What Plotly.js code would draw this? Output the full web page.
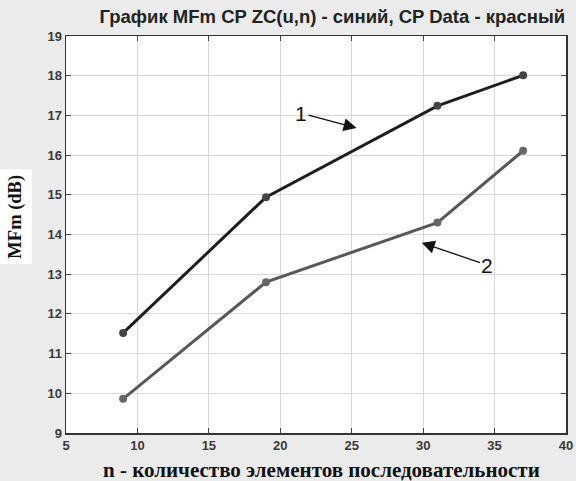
<!DOCTYPE html>
<html>
<head>
<meta charset="utf-8">
<script src="https://cdn.plot.ly/plotly-3.0.1.min.js"></script>
<style>html,body{margin:0;padding:0;background:#ebebeb;}#chart{width:576px;height:481px;}</style>
</head>
<body>
<div id="chart"></div>
<script>
const nValues = [9, 19, 31, 37];
const mfmZC = [11.52, 14.94, 17.24, 18.01];
const mfmData = [9.86, 12.8, 14.3, 16.11];
const xTicks = [5, 10, 15, 20, 25, 30, 35, 40];
const yTicks = [9, 10, 11, 12, 13, 14, 15, 16, 17, 18, 19];
const titleText = 'График MFm CP ZC(u,n) - синий, CP Data - красный';
const xTitle = 'n - количество элементов последовательности';
const yTitle = 'MFm (dB)';

const traces = [
  {x: nValues, y: mfmZC, mode: 'lines+markers', line: {color: '#1e1e1e', width: 3},
   marker: {symbol: 'circle', size: 8, color: '#444'}},
  {x: nValues, y: mfmData, mode: 'lines+markers', line: {color: '#585858', width: 3},
   marker: {symbol: 'circle', size: 8, color: '#666'}}
];

const axisCommon = {
  showline: true, linecolor: '#333', linewidth: 1.5, mirror: 'ticks',
  ticks: 'inside', ticklen: 5, tickcolor: '#444', tickwidth: 1,
  showgrid: true, gridcolor: '#d8d8d8', gridwidth: 1, zeroline: false,
  tickfont: {family: 'Liberation Sans, Arial, sans-serif', size: 13, color: '#3a3a3a', weight: 'bold'}
};

const layout = {
  width: 576, height: 481,
  margin: {l: 66, r: 10, t: 36, b: 48},
  paper_bgcolor: '#ebebeb', plot_bgcolor: '#ffffff',
  showlegend: false,
  title: {text: '<b>' + titleText + '</b>', x: 0.577, xanchor: 'center', y: 0.965, yanchor: 'middle',
          font: {family: 'Liberation Sans, Arial, sans-serif', size: 18.5, color: '#222'}},
  xaxis: Object.assign({}, axisCommon, {range: [5, 40], tickvals: xTicks, ticktext: xTicks.map(String)}),
  yaxis: Object.assign({}, axisCommon, {range: [9, 19], tickvals: yTicks, ticktext: yTicks.map(String)}),
  annotations: [
    {xref: 'paper', yref: 'paper', x: 0.51, y: -0.093, xanchor: 'center', yanchor: 'middle',
     text: '<b>' + xTitle + '</b>', showarrow: false,
     font: {family: 'Liberation Serif, Times New Roman, serif', size: 21, color: '#111'}},
    {xref: 'paper', yref: 'paper', x: -0.1, y: 0.545, xanchor: 'center', yanchor: 'middle',
     text: '<b>' + yTitle + '</b>', textangle: -90, showarrow: false, bgcolor: '#ffffff',
     borderpad: 5,
     font: {family: 'Liberation Serif, Times New Roman, serif', size: 18.5, color: '#111'}},
    {xref: 'x', yref: 'y', x: 25.34, y: 16.68, axref: 'x', ayref: 'y', ax: 21.45, ay: 17.06,
     text: '1', showarrow: true, arrowhead: 2, arrowsize: 2, arrowwidth: 1.3, arrowcolor: '#111',
     font: {family: 'Liberation Sans, Arial, sans-serif', size: 21, color: '#111'}},
    {xref: 'x', yref: 'y', x: 29.9, y: 13.79, axref: 'x', ayref: 'y', ax: 34.5, ay: 13.23,
     text: '2', showarrow: true, arrowhead: 2, arrowsize: 2, arrowwidth: 1.3, arrowcolor: '#111',
     font: {family: 'Liberation Sans, Arial, sans-serif', size: 21, color: '#111'}}
  ]
};

Plotly.newPlot('chart', traces, layout, {displayModeBar: false, staticPlot: true});
</script>
</body>
</html>
